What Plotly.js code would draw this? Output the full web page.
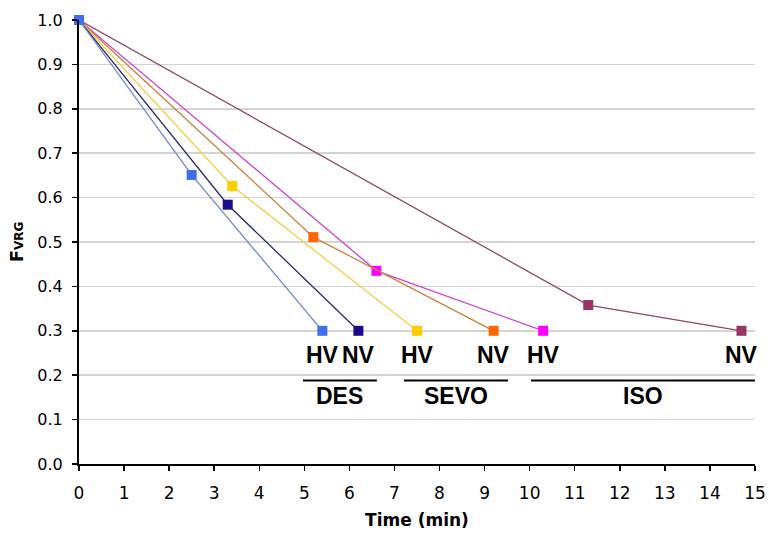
<!DOCTYPE html>
<html>
<head>
<meta charset="utf-8">
<script src="https://cdn.plot.ly/plotly-3.0.1.min.js"></script>
<style>html,body{margin:0;padding:0;background:#fff;}#chart{width:769px;height:533px;}</style>
</head>
<body>
<div id="chart"></div>
<script>
// Series (drawn back to front so the DES HV marker sits on top at t=0)
const seriesNames = ["ISO NV", "ISO HV", "SEVO NV", "SEVO HV", "DES NV", "DES HV"];
const isoNV_t  = [0, 11.3, 14.7];   const isoNV_f  = [1.0, 0.358, 0.30];
const isoHV_t  = [0, 6.6, 10.3];    const isoHV_f  = [1.0, 0.435, 0.30];
const sevoNV_t = [0, 5.2, 9.2];     const sevoNV_f = [1.0, 0.511, 0.30];
const sevoHV_t = [0, 3.4, 7.5];     const sevoHV_f = [1.0, 0.626, 0.30];
const desNV_t  = [0, 3.3, 6.2];     const desNV_f  = [1.0, 0.584, 0.30];
const desHV_t  = [0, 2.5, 5.4];     const desHV_f  = [1.0, 0.651, 0.30];

const lineColors   = ["#8a4a6e", "#cc44cc", "#c8803a", "#f0d040", "#2a2a6a", "#6f86cc"];
const markerColors = ["#993366", "#ff00ff", "#ff6600", "#ffcc00", "#1a0a8c", "#3f6ff0"];

// End-point labels
const endLabels = ["NV", "HV", "NV", "HV", "NV", "HV"];
const endLabelY = 0.245;

// Groups under the labels
const groupNames = ["DES", "SEVO", "ISO"];
const groupStart = [4.97, 7.21, 10.03];
const groupEnd   = [6.61, 9.52, 15.0];
const groupLineY = 0.188;
const groupTextY = 0.153;

const xTicks = [0,1,2,3,4,5,6,7,8,9,10,11,12,13,14,15];
const yTicks = [0.0,0.1,0.2,0.3,0.4,0.5,0.6,0.7,0.8,0.9,1.0];

const allT = [isoNV_t, isoHV_t, sevoNV_t, sevoHV_t, desNV_t, desHV_t];
const allF = [isoNV_f, isoHV_f, sevoNV_f, sevoHV_f, desNV_f, desHV_f];

const traces = allT.map((t, i) => ({
  type: "scatter", mode: "lines+markers", name: seriesNames[i],
  x: t, y: allF[i],
  line: {color: lineColors[i], width: 1.3},
  marker: {symbol: "square", size: 10, color: markerColors[i], line: {width: 0}},
  cliponaxis: false
}));

const labelFont = {family: "Liberation Sans, Arial, sans-serif", size: 23, color: "#000", weight: "bold"};
const annotations = [];
allT.forEach((t, i) => {
  annotations.push({
    x: t[t.length - 1], y: endLabelY, xref: "x", yref: "y",
    text: endLabels[i], showarrow: false, font: labelFont,
    xanchor: "center", yanchor: "middle"
  });
});
const shapes = [];
groupNames.forEach((g, i) => {
  shapes.push({type: "line", xref: "x", yref: "y",
    x0: groupStart[i], x1: groupEnd[i], y0: groupLineY, y1: groupLineY,
    line: {color: "#000", width: 2}});
  annotations.push({
    x: (groupStart[i] + groupEnd[i]) / 2, y: groupTextY, xref: "x", yref: "y",
    text: g, showarrow: false, font: labelFont,
    xanchor: "center", yanchor: "middle"
  });
});

const layout = {
  width: 769, height: 533,
  margin: {l: 79, r: 14, t: 20, b: 69},
  paper_bgcolor: "#fff", plot_bgcolor: "#fff",
  showlegend: false,
  font: {family: "DejaVu Sans, Verdana, sans-serif", size: 15, color: "#000"},
  xaxis: {
    range: [0, 15], tickvals: xTicks, ticktext: xTicks.map(String),
    showgrid: false, zeroline: false,
    showline: true, linecolor: "#000", linewidth: 2,
    ticks: "outside", ticklen: 5, tickwidth: 1.5, tickcolor: "#000",
    tickfont: {size: 17}, ticklabelstandoff: 8,
    title: {text: "Time (min)", font: {size: 17, weight: "bold"}, standoff: 12}
  },
  yaxis: {
    range: [0, 1.0], tickvals: yTicks, ticktext: yTicks.map(v => v.toFixed(1)),
    showgrid: true, gridcolor: "#d4d4d4", gridwidth: 1.5, zeroline: false,
    showline: true, linecolor: "#000", linewidth: 2,
    ticks: "outside", ticklen: 5, tickwidth: 1.5, tickcolor: "#000",
    tickfont: {size: 16}, ticklabelstandoff: 6,
    title: {text: "F<span style='font-size:12px'>VRG</span>", font: {size: 18, weight: "bold"}, standoff: 9}
  },
  shapes: shapes,
  annotations: annotations
};

Plotly.newPlot("chart", traces, layout, {displayModeBar: false, staticPlot: true});
</script>
</body>
</html>
